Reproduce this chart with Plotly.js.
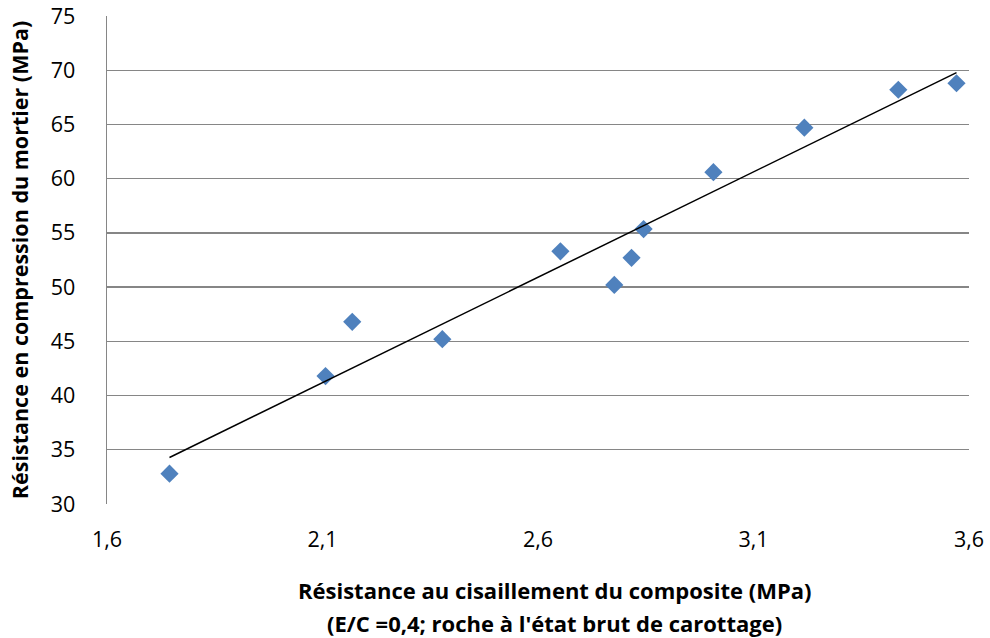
<!DOCTYPE html>
<html>
<head>
<meta charset="utf-8">
<script src="https://cdn.plot.ly/plotly-3.0.1.min.js"></script>
<style>html,body{margin:0;padding:0;background:#fff;}#chart{width:990px;height:638px;}</style>
</head>
<body>
<div id="chart"></div>
<script>
// Résistance au cisaillement du composite (MPa)
const shearStrength = [1.745, 2.107, 2.169, 2.378, 2.652, 2.777, 2.817, 2.845, 3.007, 3.218, 3.436, 3.571];
// Résistance en compression du mortier (MPa)
const compressiveStrength = [32.8, 41.8, 46.8, 45.2, 53.3, 50.2, 52.7, 55.35, 60.6, 64.7, 68.2, 68.8];
const xTickVals = [1.6, 2.1, 2.6, 3.1, 3.6];
const xTickText = ['1,6', '2,1', '2,6', '3,1', '3,6'];
const yTickVals = [30, 35, 40, 45, 50, 55, 60, 65, 70, 75];
const xTitleLines = ['Résistance au cisaillement du composite (MPa)', "(E/C =0,4; roche à l'état brut de carottage)"];
const yTitle = 'Résistance en compression du mortier (MPa)';

// Linear trend line (least squares) over the data range
const n = shearStrength.length;
const mx = shearStrength.reduce((a, b) => a + b, 0) / n;
const my = compressiveStrength.reduce((a, b) => a + b, 0) / n;
let sxy = 0, sxx = 0;
for (let i = 0; i < n; i++) {
  sxy += (shearStrength[i] - mx) * (compressiveStrength[i] - my);
  sxx += (shearStrength[i] - mx) ** 2;
}
const slope = sxy / sxx, intercept = my - slope * mx;
const xMin = Math.min(...shearStrength), xMax = Math.max(...shearStrength);
const trendX = [xMin, xMax];
const trendY = trendX.map(x => intercept + slope * x);

const font = "Open Sans, sans-serif";
const data = [
  {
    x: shearStrength, y: compressiveStrength, type: 'scatter', mode: 'markers',
    marker: {symbol: 'diamond', size: 14, color: '#4F81BD', line: {width: 0}},
    showlegend: false, hoverinfo: 'x+y'
  },
  {
    x: trendX, y: trendY, type: 'scatter', mode: 'lines',
    line: {color: '#000000', width: 1.5}, showlegend: false, hoverinfo: 'skip'
  }
];
const layout = {
  width: 990, height: 638,
  margin: {l: 107, r: 21, t: 16, b: 134},
  paper_bgcolor: '#ffffff', plot_bgcolor: '#ffffff',
  font: {family: font, size: 21, color: '#000000'},
  xaxis: {
    range: [1.6, 3.6], tickvals: xTickVals, ticktext: xTickText,
    showgrid: false, zeroline: false, showline: false, ticks: '',
    ticklabelstandoff: 20,
    tickfont: {family: font, size: 21.5, color: '#000000'}
  },
  yaxis: {
    range: [30, 75], tickvals: yTickVals,
    showgrid: true, gridcolor: '#868686', gridwidth: 1.4,
    zeroline: false, showline: true, linecolor: '#868686', linewidth: 1.4, ticks: '',
    ticklabelstandoff: 26,
    tickfont: {family: font, size: 21.5, color: '#000000'},
    title: {text: '<b>' + yTitle + '</b>',
            font: {family: font, size: 21.5, color: '#000000'}, standoff: 16}
  },
  annotations: [
    {text: '<b>' + xTitleLines[0] + '</b>', xref: 'paper', yref: 'paper', x: 0.5186, y: -0.176,
     xanchor: 'center', yanchor: 'middle', showarrow: false, font: {family: font, size: 22, color: '#000000'}},
    {text: '<b>' + xTitleLines[1] + '</b>', xref: 'paper', yref: 'paper', x: 0.5186, y: -0.244,
     xanchor: 'center', yanchor: 'middle', showarrow: false, font: {family: font, size: 22, color: '#000000'}}
  ]
};
Plotly.newPlot('chart', data, layout, {displayModeBar: false, staticPlot: true});
</script>
</body>
</html>
